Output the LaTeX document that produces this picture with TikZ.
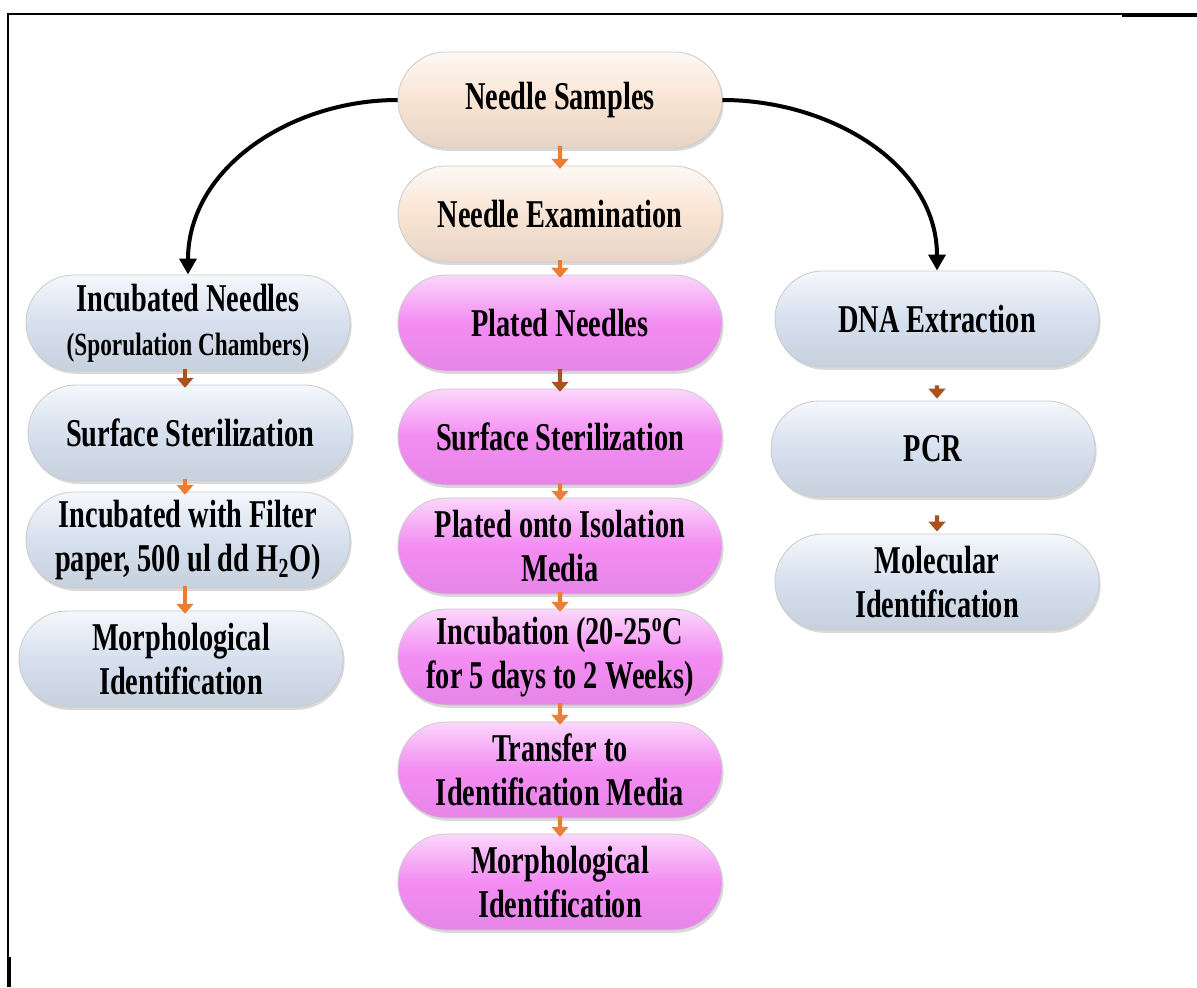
\documentclass[tikz,border=0pt]{standalone}
\usepackage{fontspec}
\setmainfont[FakeStretch=0.72]{Liberation Serif}
\usetikzlibrary{shapes.misc,arrows.meta,shadows}

\definecolor{peach}{RGB}{249,228,211}
\definecolor{steel}{RGB}{214,224,238}
\definecolor{pinkc}{RGB}{243,140,243}
\definecolor{orangearr}{RGB}{237,125,49}
\definecolor{brownarr}{RGB}{168,82,30}

\tikzset{
  pill/.style={rounded rectangle, minimum width=8.3cm, minimum height=2.4cm,
    inner sep=0.1cm, align=center, draw=black!20, line width=0.6pt,
    font=\bfseries\fontsize{28}{31}\selectfont,
    drop shadow={opacity=0.3,shadow xshift=0.04cm,shadow yshift=-0.07cm}},
  peachbox/.style={pill, top color=peach!25!white, bottom color=peach!93!black, middle color=peach},
  steelbox/.style={pill, top color=steel!25!white, bottom color=steel!93!black, middle color=steel},
  pinkbox/.style={pill, top color=pinkc!35!white, bottom color=pinkc!95!black, middle color=pinkc},
  smallarr/.style={line width=0.11cm, -{Triangle[width=0.42cm,length=0.25cm]},
    shorten <=-0.06cm, shorten >=-0.08cm},
  bigarr/.style={line width=0.1cm, -{Triangle[width=0.42cm,length=0.4cm]}}
}

\begin{document}
\begin{tikzpicture}[x=0.025cm,y=-0.025cm]
  \useasboundingbox (0,0) rectangle (1197,987);
  % frame
  \draw[line width=1.1pt] (8,987) -- (8,14) -- (1122,14);
  \draw[line width=2.2pt] (1122,15) -- (1197,15);
  \draw[line width=2.2pt] (9,957) -- (9,987);

  % centre column
  \node[peachbox] (ns) at (560,100) {Needle Samples};
  \node[peachbox] (ne) at (560,214) {Needle Examination};
  \node[pinkbox] (pn) at (560,323) {Plated Needles};
  \node[pinkbox] (ss2) at (560,437) {Surface Sterilization};
  \node[pinkbox] (pim) at (560,546) {Plated onto Isolation\\Media};
  \node[pinkbox] (inc) at (560,657) {Incubation (20-25\textsuperscript{o}C\\for 5 days to 2 Weeks)};
  \node[pinkbox] (tr) at (560,770) {Transfer to\\Identification Media};
  \node[pinkbox] (mi2) at (560,882) {Morphological\\Identification};

  % left column
  \node[steelbox] (in1) at (188,323) {Incubated Needles\\{\fontsize{23}{26}\selectfont(Sporulation Chambers)}};
  \node[steelbox] (ss1) at (190,433) {Surface Sterilization};
  \node[steelbox] (iwf) at (188,540) {Incubated with Filter\\paper, 500 ul dd H\textsubscript{2}O)};
  \node[steelbox] (mi1) at (181,659) {Morphological\\Identification};

  % right column
  \node[steelbox] (dna) at (937,319) {DNA Extraction};
  \node[steelbox] (pcr) at (933,449) {PCR};
  \node[steelbox] (mol) at (937,582) {Molecular\\Identification};

  % big arrows
  \draw[bigarr] (ns.west) to[out=180,in=90] (in1.north);
  \draw[bigarr] (ns.east) to[out=0,in=90] (dna.north);

  % small arrows
  \draw[smallarr,orangearr] (ns) -- (ne);
  \draw[smallarr,orangearr] (ne) -- (pn);
  \draw[smallarr,brownarr] (pn) -- (ss2);
  \draw[smallarr,orangearr] (ss2) -- (pim);
  \draw[smallarr,orangearr] (pim) -- (inc);
  \draw[smallarr,orangearr] (inc) -- (tr);
  \draw[smallarr,orangearr] (tr) -- (mi2);
  \draw[smallarr,brownarr] (in1.south -| 185,0) -- (ss1.north -| 185,0);
  \draw[smallarr,orangearr] (ss1.south -| 185,0) -- (iwf.north -| 185,0);
  \draw[smallarr,orangearr] (iwf.south -| 185,0) -- (mi1.north -| 185,0);
  \draw[smallarr,brownarr,shorten <=0.45cm,shorten >=0.05cm] (dna) -- (dna |- pcr.north);
  \draw[smallarr,brownarr,shorten <=0.45cm,shorten >=0.05cm] (pcr.south -| mol) -- (mol);
\end{tikzpicture}
\end{document}
